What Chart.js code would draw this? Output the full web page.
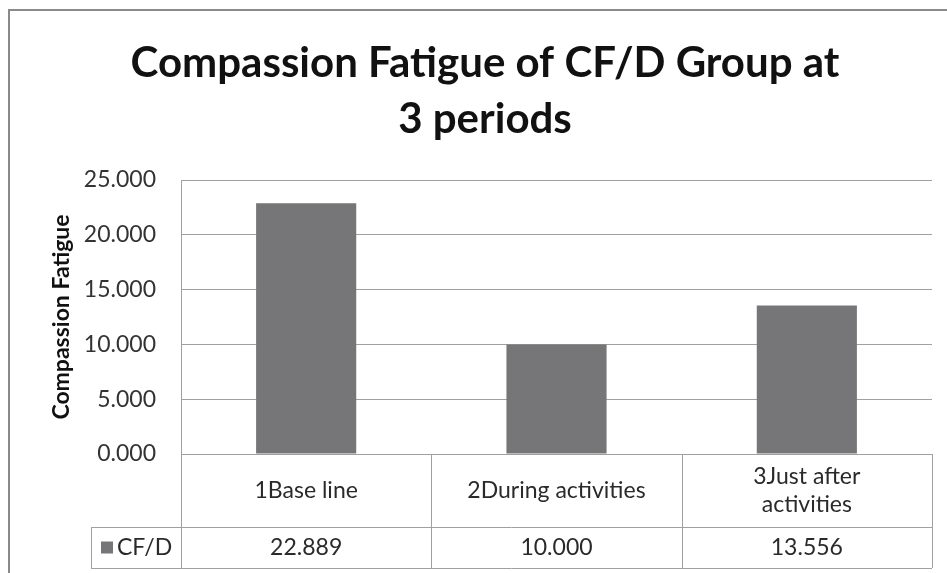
<!DOCTYPE html>
<html><head><meta charset="utf-8">
<script src="https://cdn.jsdelivr.net/npm/chart.js@4"></script>
<style>html,body{margin:0;padding:0;background:#fff;}canvas{display:block;}</style>
</head><body>
<canvas id="c" width="947" height="573"></canvas>
<script>
const titleLines = ["Compassion Fatigue of CF/D Group at", "3 periods"];
const categories = [["1Base line"], ["2During activities"], ["3Just after", "activities"]];
const seriesName = "CF/D";
const values = [22.889, 10.000, 13.556];
const yTicks = [0, 5, 10, 15, 20, 25];
const yAxisTitle = "Compassion Fatigue";

const BAR = '#767678';
const TXT = '#2a2a2a';
const GRID = '#a0a0a0';
const FONT = 'Lato, "Open Sans", sans-serif';

const framePlugin = {
  id: 'frame',
  beforeDraw(chart) {
    const ctx = chart.ctx;
    ctx.save();
    ctx.fillStyle = '#fff';
    ctx.fillRect(0, 0, chart.width, chart.height);
    ctx.strokeStyle = '#8a8a8a';
    ctx.lineWidth = 2;
    ctx.strokeRect(9, 10, 1200, 1200);
    ctx.restore();
  }
};

const titlePlugin = {
  id: 'customTitle',
  afterDraw(chart) {
    const ctx = chart.ctx;
    ctx.save();
    ctx.fillStyle = '#111111';
    ctx.font = 'bold 42px ' + FONT;
    ctx.textAlign = 'center';
    ctx.textBaseline = 'alphabetic';
    ctx.fillText(titleLines[0], 485, 77);
    ctx.fillText(titleLines[1], 485, 133);
    ctx.restore();
  }
};

const tablePlugin = {
  id: 'dataTable',
  afterDraw(chart) {
    const ctx = chart.ctx;
    const a = chart.chartArea;
    const xs = chart.scales.x;
    const n = categories.length;
    const w = (a.right - a.left) / n;
    const top = a.bottom, mid = a.bottom + 73, bot = a.bottom + 114;
    const leftCol = 91;
    ctx.save();
    ctx.strokeStyle = GRID;
    ctx.lineWidth = 1;
    ctx.beginPath();
    ctx.moveTo(a.left, top + 0.5); ctx.lineTo(a.right, top + 0.5);
    ctx.moveTo(leftCol, mid + 0.5); ctx.lineTo(a.right, mid + 0.5);
    ctx.moveTo(leftCol, bot + 0.5); ctx.lineTo(a.right, bot + 0.5);
    ctx.moveTo(leftCol + 0.5, mid); ctx.lineTo(leftCol + 0.5, bot);
    for (let i = 0; i <= n; i++) {
      const x = Math.round(a.left + i * w) + 0.5;
      ctx.moveTo(x, top); ctx.lineTo(x, bot);
    }
    ctx.stroke();
    ctx.fillStyle = TXT;
    ctx.font = '23px ' + FONT;
    ctx.textAlign = 'center';
    ctx.textBaseline = 'middle';
    for (let i = 0; i < n; i++) {
      const cx = xs.getPixelForValue(i);
      const lines = categories[i];
      const lh = 28;
      const y0 = (top + mid) / 2 - (lines.length - 1) * lh / 2;
      lines.forEach((t, j) => ctx.fillText(t, cx, y0 + j * lh));
      ctx.fillText(values[i].toFixed(3), cx, (mid + bot) / 2);
    }
    ctx.fillStyle = BAR;
    ctx.fillRect(101, (mid + bot) / 2 - 6, 12, 12);
    ctx.fillStyle = TXT;
    ctx.textAlign = 'left';
    ctx.fillText(seriesName, 117, (mid + bot) / 2);
    ctx.restore();
  }
};

new Chart(document.getElementById('c'), {
  type: 'bar',
  data: {
    labels: categories,
    datasets: [{
      label: seriesName,
      data: values,
      backgroundColor: BAR,
      borderWidth: 0,
      barPercentage: 0.4,
      categoryPercentage: 1.0
    }]
  },
  options: {
    responsive: false,
    animation: false,
    layout: { padding: { left: 0, right: 15, top: 180, bottom: 119 } },
    plugins: { legend: { display: false }, title: { display: false }, tooltip: { enabled: false } },
    scales: {
      x: { display: false },
      y: {
        min: 0, max: 25,
        afterFit(s) { s.width = 181; },
        afterBuildTicks(s) { s.ticks = yTicks.map(v => ({ value: v })); },
        ticks: {
          color: '#333333',
          font: { family: FONT, size: 23 },
          padding: 25,
          callback: v => Number(v).toFixed(3)
        },
        grid: { color: GRID, lineWidth: 1, drawTicks: false },
        border: { display: true, color: GRID },
        title: {
          display: true,
          text: yAxisTitle,
          color: '#111111',
          font: { family: FONT, size: 23, weight: 'bold' },
          padding: { top: 48, bottom: 0 }
        }
      }
    }
  },
  plugins: [framePlugin, titlePlugin, tablePlugin]
});
</script>
</body></html>
